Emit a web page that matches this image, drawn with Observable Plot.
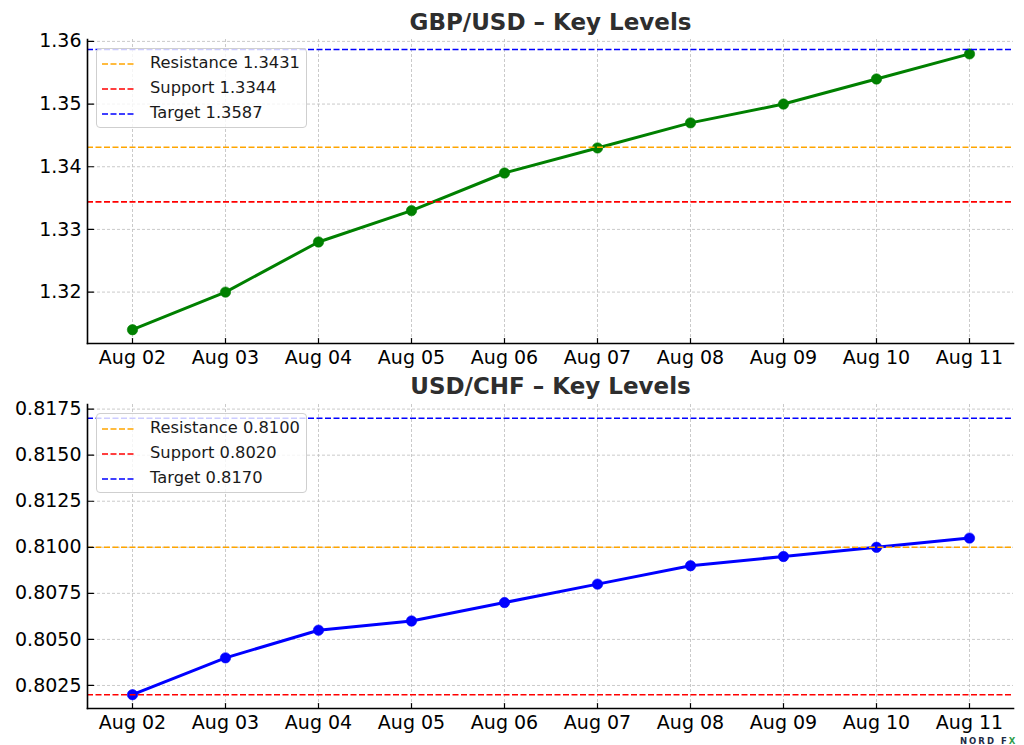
<!DOCTYPE html>
<html>
<head>
<meta charset="utf-8">
<script src="https://cdn.jsdelivr.net/npm/d3@7"></script>
<script src="https://cdn.jsdelivr.net/npm/@observablehq/plot@0.6"></script>
<style>
  body { margin: 0; background: #fff; }
  #wrap { position: relative; width: 1024px; height: 745px; font-family: "DejaVu Sans", sans-serif; overflow: hidden; }
  .panel { position: absolute; left: 0; }
  .legend { position: absolute; left: 96px; width: 211px; height: 80px; border: 1px solid #cfcfcf; border-radius: 4px;
            background: rgba(255,255,255,0.8); box-sizing: border-box; }
  .item { position: absolute; left: 0; height: 20px; width: 100%; }
  .item svg { position: absolute; left: 5px; top: 9px; }
  .item span { position: absolute; left: 53px; top: 0; font-size: 16.3px; line-height: 20px; color: #1a1a1a; white-space: nowrap; }
  .wm { position: absolute; left: 960px; top: 736px; font-size: 8.5px; font-weight: bold; letter-spacing: 2px; color: #1d2b45; font-family: "DejaVu Sans", sans-serif; }
</style>
</head>
<body>
<div id="wrap"></div>
<script>
// ---- data ----
const dates = ["Aug 02", "Aug 03", "Aug 04", "Aug 05", "Aug 06", "Aug 07", "Aug 08", "Aug 09", "Aug 10", "Aug 11"];
const gbpusd = [1.314, 1.320, 1.328, 1.333, 1.339, 1.343, 1.347, 1.350, 1.354, 1.358];
const usdchf = [0.8020, 0.8040, 0.8055, 0.8060, 0.8070, 0.8080, 0.8090, 0.8095, 0.8100, 0.8105];
const levelNames = ["Resistance", "Support", "Target"];
const levelColors = ["#ffa500", "#ff0000", "#0000ff"];
const gbpLevels = [1.3431, 1.3344, 1.3587];
const chfLevels = [0.8100, 0.8020, 0.8170];
const gbpTicks = [1.32, 1.33, 1.34, 1.35, 1.36];
const chfTicks = [0.8025, 0.8050, 0.8075, 0.8100, 0.8125, 0.8150, 0.8175];
const gbpDomain = [1.3118, 1.3603];
const chfDomain = [0.80125, 0.81775];

const tickLine = { draw(context, l) { context.moveTo(0, 0); context.lineTo(0, -l); } };

function panel({title, values, color, ticks, digits, levels, domain, top, height, marginTop, marginBottom, titleDy}) {
  const rows = dates.map((d, i) => ({date: d, value: values[i]}));
  const lv = levels.map((v, i) => ({name: levelNames[i], value: v, color: levelColors[i]}));
  const grid = {stroke: "#c4c4c4", strokeOpacity: 1, strokeWidth: 0.9, strokeDasharray: "3,2"};
  const svg = Plot.plot({
    width: 1024, height,
    marginLeft: 87, marginRight: 11, marginTop, marginBottom,
    style: {fontFamily: "DejaVu Sans, sans-serif", fontSize: "19px", color: "#000", background: "transparent"},
    x: {type: "point", domain: dates, padding: 0.45, label: null},
    y: {domain, label: null},
    marks: [
      Plot.gridX(dates, grid),
      Plot.gridY(ticks, grid),
      Plot.line(rows, {x: "date", y: "value", stroke: color, strokeWidth: 3}),
      Plot.dot(rows, {x: "date", y: "value", r: 5.2, fill: color, stroke: color, strokeWidth: 0.6}),
      ...lv.map(l => Plot.ruleY([l.value], {stroke: l.color, strokeWidth: 1.6, strokeDasharray: "6,2.5"})),
      Plot.axisX(dates, {tickSize: 0, tickPadding: 7, fontSize: 19, label: null}),
      Plot.axisY(ticks, {tickSize: 0, tickPadding: 6, fontSize: 19, label: null, tickFormat: d => d.toFixed(digits)}),
      Plot.vector(dates, {x: d => d, frameAnchor: "bottom", length: 5, shape: tickLine, anchor: "start", stroke: "#000", strokeWidth: 1.2}),
      Plot.vector(ticks, {y: d => d, frameAnchor: "left", length: 6, rotate: 90, shape: tickLine, anchor: "start", stroke: "#000", strokeWidth: 1.2}),
      Plot.frame({anchor: "left", stroke: "#000", strokeWidth: 1.6}),
      Plot.frame({anchor: "bottom", stroke: "#000", strokeWidth: 1.6}),
      Plot.text([title], {frameAnchor: "top", lineAnchor: "middle", dy: titleDy, fontSize: 23, fontWeight: "bold", fill: "#2e2e2e"})
    ]
  });
  const holder = document.createElement("div");
  holder.className = "panel";
  holder.style.top = top + "px";
  holder.appendChild(svg);
  const leg = document.createElement("div");
  leg.className = "legend";
  leg.style.top = (marginTop + 9) + "px";
  lv.forEach((l, i) => {
    const it = document.createElement("div");
    it.className = "item";
    it.style.top = (4 + i * 25) + "px";
    it.innerHTML = `<svg width="34" height="4"><line x1="0" y1="2" x2="34" y2="2" stroke="${l.color}" stroke-width="1.5" stroke-dasharray="6,2.5"/></svg><span>${l.name} ${l.value.toFixed(4)}</span>`;
    leg.appendChild(it);
  });
  holder.appendChild(leg);
  return holder;
}

const wrap = document.getElementById("wrap");
wrap.appendChild(panel({title: "GBP/USD – Key Levels", values: gbpusd, color: "#008000", ticks: gbpTicks, digits: 2,
  levels: gbpLevels, domain: gbpDomain, top: 0, height: 372, marginTop: 39, marginBottom: 29, titleDy: -17}));
wrap.appendChild(panel({title: "USD/CHF – Key Levels", values: usdchf, color: "#0000ff", ticks: chfTicks, digits: 4,
  levels: chfLevels, domain: chfDomain, top: 372, height: 373, marginTop: 32, marginBottom: 37, titleDy: -18}));
const wm = document.createElement("div");
wm.className = "wm";
wm.innerHTML = 'NORD F<span style="color:#2e9e4a">X</span>';
wrap.appendChild(wm);
</script>
</body>
</html>
